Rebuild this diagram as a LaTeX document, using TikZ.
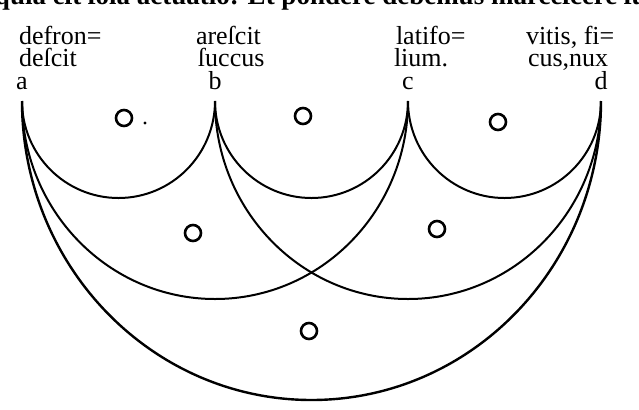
\documentclass[tikz,border=0pt]{standalone}
\usepackage{fontspec}
\setmainfont{Liberation Serif}
\usepackage{tikz}
\usetikzlibrary{positioning}

\begin{document}
\begin{tikzpicture}[x=0.5pt, y=-0.5pt, line width=1pt,
    lbl/.style={font=\fontsize{13}{15}\selectfont, inner sep=0pt, text height=8pt, text depth=0pt, anchor=base west},
    pt/.style={font=\fontsize{13}{15}\selectfont, inner sep=0pt, text height=6.5pt, text depth=0pt, anchor=base},
    hole/.style={circle, draw, line width=1.3pt, minimum size=8pt, inner sep=0pt}]
  \useasboundingbox (0,0) rectangle (639,409);
  % last line of the text above, cut by the page edge
  \node[lbl, font=\fontsize{13.5}{15}\bfseries\selectfont] (prev) at (-6,4)
        {quia eſt ſola actuatio: Et pondere debemus marceſcere ſucco,};
  % the four labels
  \node[lbl] (ta1) at (18,44)  {defron=};
  \node[lbl] (ta2) at (18,66)  {deſcit};
  \node[lbl] (tb1) at (195,44) {areſcit};
  \node[lbl] (tb2) at (197,66) {ſuccus};
  \node[lbl] (tc1) at (395,44) {latifo=};
  \node[lbl] (tc2) at (393,66) {lium.};
  \node[lbl] (td1) at (525,44) {vitis, fi=};
  \node[lbl] (td2) at (527,66) {cus,nux};
  \node[pt] (la) at (22,89)  {a};
  \node[pt] (lb) at (215,89) {b};
  \node[pt] (lc) at (408,89) {c};
  \node[pt] (ld) at (601,89) {d};
  \coordinate (a) at (22,101);
  \coordinate (b) at (215,101);
  \coordinate (c) at (408,101);
  \coordinate (d) at (601,101);
  % small arcs
  \draw (a) arc[start angle=180, end angle=0, x radius=96.5, y radius=97];
  \draw (b) arc[start angle=180, end angle=0, x radius=96.5, y radius=97];
  \draw (c) arc[start angle=180, end angle=0, x radius=96.5, y radius=97];
  % middle arcs
  \draw (a) arc[start angle=180, end angle=0, x radius=193, y radius=198];
  \draw (b) arc[start angle=180, end angle=0, x radius=193, y radius=198];
  % great arc
  \draw[line width=1.2pt] (a) arc[start angle=180, end angle=0, x radius=289.5, y radius=299];
  % the rings
  \node[hole] (oab) at (124,118) {};
  \node[hole] (obc) at (303,116) {};
  \node[hole] (ocd) at (498,122) {};
  \node[hole] (oac) at (193,233) {};
  \node[hole] (obd) at (437,229) {};
  \node[hole] (oad) at (309,331) {};
  \fill (145,123) circle (0.8pt);
\end{tikzpicture}
\end{document}
